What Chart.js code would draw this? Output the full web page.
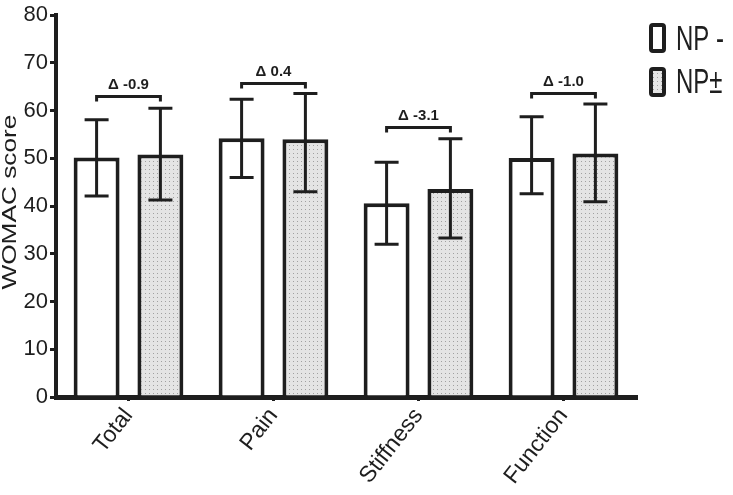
<!DOCTYPE html>
<html>
<head>
<meta charset="utf-8">
<script src="https://cdn.jsdelivr.net/npm/chart.js@4"></script>
<style>
  html, body { margin: 0; padding: 0; background: #fff; }
  #wrap { width: 733px; height: 495px; }
</style>
</head>
<body>
<div id="wrap"><canvas id="chart"></canvas></div>
<script>
const categories = ['Total', 'Pain', 'Stiffness', 'Function'];
const npNeg = [50.2, 54.2, 40.6, 50.1];
const npNegLow = [42.1, 46.0, 32.0, 42.6];
const npNegHigh = [58.1, 62.4, 49.2, 58.7];
const npPos = [50.8, 54.0, 43.6, 51.0];
const npPosLow = [41.3, 43.0, 33.3, 40.9];
const npPosHigh = [60.5, 63.6, 54.1, 61.4];
const deltaLabels = ['\u0394 -0.9', '\u0394 0.4', '\u0394 -3.1', '\u0394 -1.0'];
const bracketLevels = [63.0, 65.7, 56.6, 63.8];
const legendLabels = ['NP -', 'NP\u00b1'];

const ink = '#1e1e1e';
const font = "'Liberation Sans', Arial, sans-serif";

// dotted grey fill
function dotPattern() {
  const c = document.createElement('canvas');
  c.width = 4; c.height = 4;
  const g = c.getContext('2d');
  g.fillStyle = '#e4e4e4';
  g.fillRect(0, 0, 4, 4);
  g.fillStyle = '#a0a0a0';
  g.fillRect(1, 1, 1, 1);
  return g.createPattern(c, 'repeat');
}
const dots = dotPattern();

const errorBars = {
  id: 'errorBars',
  afterDatasetsDraw(chart) {
    const ctx = chart.ctx;
    const y = chart.scales.y;
    const lows = [npNegLow, npPosLow];
    const highs = [npNegHigh, npPosHigh];
    ctx.save();
    ctx.strokeStyle = ink;
    ctx.lineWidth = 3;
    chart.data.datasets.forEach((ds, di) => {
      chart.getDatasetMeta(di).data.forEach((bar, i) => {
        const x = bar.x;
        const yl = y.getPixelForValue(lows[di][i]);
        const yh = y.getPixelForValue(highs[di][i]);
        ctx.beginPath();
        ctx.moveTo(x, yl); ctx.lineTo(x, yh);
        ctx.moveTo(x - 12, yl); ctx.lineTo(x + 12, yl);
        ctx.moveTo(x - 12, yh); ctx.lineTo(x + 12, yh);
        ctx.stroke();
      });
    });

    // brackets with delta labels
    const m0 = chart.getDatasetMeta(0).data;
    const m1 = chart.getDatasetMeta(1).data;
    ctx.font = 'bold 15px ' + font;
    ctx.fillStyle = ink;
    ctx.textAlign = 'center';
    ctx.textBaseline = 'bottom';
    categories.forEach((c, i) => {
      const by = Math.round(y.getPixelForValue(bracketLevels[i])) + 0.5;
      const x0 = m0[i].x, x1 = m1[i].x;
      ctx.beginPath();
      ctx.moveTo(x0, by + 5); ctx.lineTo(x0, by);
      ctx.lineTo(x1, by); ctx.lineTo(x1, by + 5);
      ctx.stroke();
      ctx.fillText(deltaLabels[i], (x0 + x1) / 2, by - 4);
    });

    // y axis title
    ctx.save();
    ctx.font = '21px ' + font;
    ctx.textBaseline = 'middle';
    ctx.translate(10, (y.top + y.bottom) / 2 - 4);
    ctx.rotate(-Math.PI / 2);
    ctx.scale(1.25, 1);
    ctx.fillText('WOMAC score', 0, 0);
    ctx.restore();

    // legend
    const fills = ['#ffffff', dots];
    const boxTops = [23, 67];
    const baselines = [50, 93];
    legendLabels.forEach((lab, i) => {
      ctx.fillStyle = fills[i];
      ctx.lineWidth = 4;
      ctx.beginPath();
      ctx.roundRect(651, boxTops[i] + 2, 13, 26, 2);
      ctx.fill();
      ctx.stroke();
      ctx.save();
      ctx.fillStyle = ink;
      ctx.textAlign = 'left';
      ctx.textBaseline = 'alphabetic';
      ctx.font = '24px ' + font;
      ctx.translate(676, baselines[i]);
      ctx.scale(1, 1.45);
      ctx.fillText(lab, 0, 0);
      ctx.restore();
    });
    ctx.restore();
  }
};

new Chart(document.getElementById('chart'), {
  type: 'bar',
  data: {
    labels: categories,
    datasets: [
      { label: legendLabels[0], data: npNeg, backgroundColor: '#ffffff', borderColor: ink, borderWidth: 4,
        categoryPercentage: 0.88, barPercentage: 0.72 },
      { label: legendLabels[1], data: npPos, backgroundColor: dots, borderColor: ink, borderWidth: 4,
        categoryPercentage: 0.88, barPercentage: 0.72 }
    ]
  },
  options: {
    responsive: true,
    maintainAspectRatio: false,
    animation: false,
    layout: { padding: { left: 0, top: 10, right: 97, bottom: 0 } },
    plugins: { legend: { display: false }, tooltip: { enabled: false } },
    scales: {
      x: {
        afterFit: s => { s.height = 98; },
        border: { display: true, width: 5, color: ink },
        grid: { offset: false, drawOnChartArea: false, drawTicks: true, tickLength: 4, lineWidth: 3, color: ink },
        ticks: { color: ink, font: { size: 23, family: font }, minRotation: 52, maxRotation: 52, padding: 2 }
      },
      y: {
        min: 0, max: 80,
        afterFit: s => { s.width = 56; },
        border: { display: true, width: 4, color: ink },
        grid: { drawOnChartArea: false, drawTicks: true, tickLength: 6, lineWidth: 3, color: ink },
        ticks: { stepSize: 10, color: ink, font: { size: 22, family: font }, padding: 2 }
      }
    }
  },
  plugins: [errorBars]
});
</script>
</body>
</html>
